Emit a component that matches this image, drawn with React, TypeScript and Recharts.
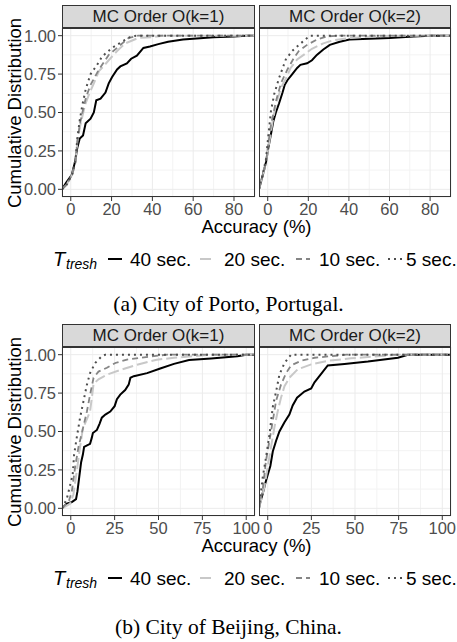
import React from "react";
import { LineChart, Line, XAxis, YAxis, CartesianGrid } from "recharts";

type Pt = [number, number];

// Threshold series, in legend order
const seriesNames = ["40 sec.", "20 sec.", "10 sec.", "5 sec."];
const facetNames = ["MC Order O(k=1)", "MC Order O(k=2)"];

// Porto, k=1 (accuracy %, cumulative share)
const porto1_40: Pt[] = [[-4.3, 0], [-2.4, 0.04], [0.5, 0.095], [2.1, 0.18], [3.2, 0.27], [4.4, 0.33], [6, 0.35], [7.3, 0.43], [9.7, 0.46], [11.3, 0.5], [12.5, 0.58], [14.6, 0.59], [17, 0.63], [18.6, 0.69], [20.2, 0.73], [22.7, 0.78], [24.3, 0.8], [27.5, 0.82], [29.6, 0.85], [32.4, 0.87], [35.6, 0.92], [38.8, 0.93], [42.9, 0.945], [47.7, 0.96], [55, 0.975], [60, 0.98], [70, 0.99], [80, 0.995], [86, 1], [90.3, 1]];
const porto1_20: Pt[] = [[-4.3, 0], [-2, 0.03], [0.8, 0.1], [2.4, 0.18], [3.2, 0.31], [4.4, 0.4], [5.7, 0.475], [7, 0.55], [8.9, 0.616], [11.3, 0.69], [13.8, 0.77], [16, 0.8], [18.6, 0.84], [22.7, 0.9], [26.7, 0.95], [33, 0.985], [39.6, 0.99], [45, 1], [90.3, 1]];
const porto1_10: Pt[] = [[-4.3, 0], [-2, 0.03], [0.8, 0.1], [2.4, 0.18], [3.2, 0.31], [4.4, 0.42], [5.7, 0.5], [7.5, 0.6], [9.7, 0.68], [13.8, 0.78], [18.6, 0.875], [23.5, 0.93], [28.3, 0.985], [33, 1], [90.3, 1]];
const porto1_5: Pt[] = [[-4.3, 0], [-2, 0.03], [0.8, 0.1], [2.4, 0.2], [3.2, 0.33], [4.4, 0.45], [5.7, 0.55], [7.3, 0.65], [9.7, 0.75], [12.9, 0.81], [15.4, 0.865], [20.2, 0.92], [25, 0.96], [29, 0.99], [32, 1], [90.3, 1]];

// Porto, k=2
const porto2_40: Pt[] = [[-4.3, 0], [-2.4, 0.095], [-0.8, 0.18], [0.3, 0.27], [1.6, 0.36], [2.7, 0.44], [4, 0.5], [5.6, 0.56], [7.3, 0.63], [8.4, 0.68], [9.7, 0.71], [12.1, 0.75], [14.5, 0.79], [16.1, 0.81], [19.4, 0.82], [21.8, 0.84], [24.2, 0.875], [27.4, 0.91], [30.6, 0.94], [35.5, 0.96], [40.3, 0.975], [50, 0.98], [60, 0.985], [72, 0.995], [80, 1], [90.3, 1]];
const porto2_20: Pt[] = [[-4.3, 0], [-2.4, 0.09], [-0.8, 0.18], [0.8, 0.31], [2.4, 0.44], [4, 0.55], [6.5, 0.66], [8.9, 0.72], [11.3, 0.79], [14.5, 0.845], [17.7, 0.875], [21.8, 0.915], [27.4, 0.95], [32.3, 0.97], [40.3, 0.985], [60, 1], [90.3, 1]];
const porto2_10: Pt[] = [[-4.3, 0], [-2.4, 0.09], [-0.8, 0.18], [0.3, 0.3], [1.6, 0.42], [4, 0.57], [6.5, 0.69], [9.7, 0.78], [12.9, 0.855], [15.3, 0.9], [19.4, 0.94], [24.2, 0.975], [29, 0.995], [35, 1], [90.3, 1]];
const porto2_5: Pt[] = [[-4.3, 0], [-2.4, 0.1], [-0.8, 0.2], [0.3, 0.35], [1.6, 0.51], [3.2, 0.62], [5.6, 0.725], [8.9, 0.845], [12, 0.9], [14.5, 0.93], [19.4, 0.985], [21, 1], [90.3, 1]];

// Beijing, k=1
const beijing1_40: Pt[] = [[-5, 0], [-2.3, 0.03], [0.6, 0.04], [3, 0.06], [3.8, 0.11], [5, 0.22], [5.9, 0.3], [6.9, 0.35], [7.6, 0.4], [11, 0.42], [12, 0.46], [12.6, 0.49], [14.9, 0.51], [16.4, 0.55], [17.7, 0.59], [19.7, 0.61], [22.5, 0.63], [25, 0.665], [26.3, 0.71], [28.2, 0.74], [31, 0.77], [33, 0.805], [34, 0.85], [35.9, 0.86], [43.5, 0.88], [51, 0.91], [58.8, 0.94], [67.4, 0.965], [80, 0.975], [95, 0.99], [100, 1], [105, 1]];
const beijing1_20: Pt[] = [[-5, 0], [-0.4, 0.03], [1.5, 0.09], [3.4, 0.24], [5.3, 0.4], [6.9, 0.52], [9.2, 0.58], [11, 0.63], [12, 0.72], [13, 0.81], [15.8, 0.84], [20.6, 0.87], [28.2, 0.9], [37.8, 0.935], [49, 0.967], [58.8, 0.98], [70, 0.99], [80, 1], [105, 1]];
const beijing1_10: Pt[] = [[-5, 0], [-1, 0.05], [0.6, 0.11], [2.5, 0.27], [4.4, 0.4], [6.3, 0.49], [9.2, 0.63], [11, 0.74], [12, 0.795], [13, 0.85], [15.8, 0.89], [20.6, 0.915], [25.4, 0.946], [32, 0.968], [39.7, 0.98], [51, 0.995], [55, 1], [105, 1]];
const beijing1_5: Pt[] = [[-5, 0], [-2.3, 0.06], [1.1, 0.22], [1.9, 0.35], [3.4, 0.46], [5.3, 0.59], [7.3, 0.7], [9.2, 0.805], [11, 0.88], [13.9, 0.946], [17.7, 0.99], [19.7, 1], [105, 1]];

// Beijing, k=2
const beijing2_40: Pt[] = [[-5, 0], [-4.8, 0.017], [-2.9, 0.093], [-1, 0.18], [1.5, 0.276], [2.9, 0.37], [4.8, 0.44], [6.7, 0.5], [9.6, 0.56], [12.4, 0.61], [14.3, 0.67], [16.8, 0.72], [21, 0.76], [24.9, 0.78], [26.8, 0.82], [29.6, 0.86], [34.4, 0.93], [44, 0.94], [57.4, 0.955], [74.6, 0.98], [80.3, 1], [105, 1]];
const beijing2_20: Pt[] = [[-5, 0], [-1.9, 0.14], [0, 0.27], [1.9, 0.4], [3.8, 0.525], [5.7, 0.63], [7.6, 0.72], [9.6, 0.795], [12.4, 0.85], [17.2, 0.905], [24.9, 0.937], [34.4, 0.96], [47.8, 0.976], [63, 0.99], [75, 1], [105, 1]];
const beijing2_10: Pt[] = [[-5, 0], [-2.9, 0.12], [-1, 0.31], [1, 0.44], [2.9, 0.57], [4.8, 0.7], [7.6, 0.805], [10.5, 0.88], [13.4, 0.93], [19, 0.96], [26.8, 0.98], [36, 0.99], [45, 1], [105, 1]];
const beijing2_5: Pt[] = [[-5, 0], [-2.9, 0.2], [-1, 0.33], [1, 0.48], [2.9, 0.66], [4.8, 0.76], [6.7, 0.87], [9.6, 0.946], [13.4, 1], [105, 1]];

// axes
const portoXDomain: [number, number] = [-4.3, 90.3];
const portoXTicks = [0, 20, 40, 60, 80];
const portoXMinor = [10, 30, 50, 70, 90];
const beijingXDomain: [number, number] = [-5, 105];
const beijingXTicks = [0, 25, 50, 75, 100];
const beijingXMinor = [12.5, 37.5, 62.5, 87.5];
const yTicks = [0, 0.25, 0.5, 0.75, 1];
const yMinor = [0.125, 0.375, 0.625, 0.875];

const lineStyles = [
  { stroke: "#000000", width: 2, dash: undefined as string | undefined },
  { stroke: "#C8C8C8", width: 2, dash: "11 4" },
  { stroke: "#858585", width: 1.8, dash: "6 4" },
  { stroke: "#4D4D4D", width: 2, dash: "2 4" },
];

const SANS = "'Liberation Sans', Arial, sans-serif";
const SERIF = "'Liberation Serif', 'Times New Roman', serif";
const PLOT_H = 169;
const AXIS_H = 24;
const Y_W = 62;
const EXTRA_R = 14; // room for the last tick label

const toRows = (pts: Pt[]) => pts.map(([x, y]) => ({ x, y }));

function Panel({ left, top, plotW, showY, xDomain, xTicks, xMinor, curves, title }: any) {
  const yw = showY ? Y_W : 0;
  return (
    <>
      <div
        style={{
          position: "absolute",
          left: left + yw,
          top: top - 23,
          width: plotW,
          height: 23,
          boxSizing: "border-box",
          border: "1px solid #333333",
          background: "#D9D9D9",
          color: "#1A1A1A",
          fontSize: 17,
          lineHeight: "21px",
          textAlign: "center",
        }}
      >
        {title}
      </div>
      <div style={{ position: "absolute", left, top }}>
        <LineChart width={plotW + yw + EXTRA_R} height={PLOT_H + AXIS_H} margin={{ top: 0, right: EXTRA_R, bottom: 0, left: 0 }}>
          <CartesianGrid stroke="#F3F3F3" verticalValues={xMinor} horizontalValues={yMinor} />
          <CartesianGrid stroke="#EBEBEB" />
          <XAxis
            type="number"
            dataKey="x"
            domain={xDomain}
            ticks={xTicks}
            interval={0}
            allowDataOverflow
            height={AXIS_H}
            axisLine={false}
            tickLine={{ stroke: "#333333" }}
            tickSize={4}
            tick={{ fill: "#4D4D4D", fontSize: 16.5, fontFamily: SANS }}
          />
          <YAxis
            type="number"
            dataKey="y"
            domain={[-0.05, 1.05]}
            ticks={yTicks}
            interval={0}
            allowDataOverflow
            hide={!showY}
            width={Y_W}
            axisLine={false}
            tickLine={{ stroke: "#333333" }}
            tickSize={4}
            tick={{ fill: "#4D4D4D", fontSize: 16.5, fontFamily: SANS }}
            tickFormatter={(v: number) => v.toFixed(2)}
          />
          {curves.map((c: Pt[], i: number) => (
            <Line
              key={i}
              data={toRows(c)}
              dataKey="y"
              type="linear"
              dot={false}
              activeDot={false}
              stroke={lineStyles[i].stroke}
              strokeWidth={lineStyles[i].width}
              strokeDasharray={lineStyles[i].dash}
              isAnimationActive={false}
            />
          ))}
        </LineChart>
      </div>
      <div
        style={{
          position: "absolute",
          left: left + yw,
          top,
          width: plotW,
          height: PLOT_H,
          boxSizing: "border-box",
          border: "1px solid #333333",
          pointerEvents: "none",
        }}
      />
    </>
  );
}

function LegendRow({ cy }: { cy: number }) {
  const keyX = [108, 200, 296, 388];
  const textX = [130, 224, 319, 406];
  return (
    <>
      <div style={{ position: "absolute", left: 53, top: cy - 12, fontSize: 20, fontStyle: "italic", lineHeight: "22px" }}>T</div>
      <div style={{ position: "absolute", left: 66, top: cy - 4, fontSize: 14, fontStyle: "italic", lineHeight: "16px" }}>tresh</div>
      {seriesNames.map((name, i) => (
        <React.Fragment key={name}>
          <svg style={{ position: "absolute", left: keyX[i], top: cy - 3 }} width={14} height={4}>
            <line
              x1={0}
              x2={14}
              y1={2}
              y2={2}
              stroke={lineStyles[i].stroke}
              strokeWidth={lineStyles[i].width}
              strokeDasharray={lineStyles[i].dash}
            />
          </svg>
          <div style={{ position: "absolute", left: textX[i], top: cy - 11, fontSize: 19, lineHeight: "22px", whiteSpace: "nowrap" }}>
            {name}
          </div>
        </React.Fragment>
      ))}
    </>
  );
}

function Figure({ top, xDomain, xTicks, xMinor, k1, k2, caption, captionY }: any) {
  // top = strip top
  const panelTop = top + 23;
  return (
    <>
      <Panel left={0} top={panelTop} plotW={193} showY xDomain={xDomain} xTicks={xTicks} xMinor={xMinor} curves={k1} title={facetNames[0]} />
      <Panel left={259} top={panelTop} plotW={192} showY={false} xDomain={xDomain} xTicks={xTicks} xMinor={xMinor} curves={k2} title={facetNames[1]} />
      <div
        style={{
          position: "absolute",
          left: 15,
          top: panelTop + PLOT_H / 2,
          transform: "translate(-50%, -50%) rotate(-90deg)",
          whiteSpace: "nowrap",
          fontSize: 18.5,
        }}
      >
        Cumulative Distribution
      </div>
      <div style={{ position: "absolute", left: 62, width: 389, top: panelTop + PLOT_H + 19, textAlign: "center", fontSize: 18.5, lineHeight: "21px" }}>
        Accuracy (%)
      </div>
      <LegendRow cy={panelTop + PLOT_H + 63} />
      <div style={{ position: "absolute", left: 0, width: 457, top: captionY - 12, textAlign: "center", fontFamily: SERIF, fontSize: 21.5, lineHeight: "24px" }}>
        {caption}
      </div>
    </>
  );
}

export default function App() {
  return (
    <div
      style={{
        position: "absolute",
        left: 0,
        top: 0,
        width: 457,
        height: 642,
        overflow: "hidden",
        background: "#FFFFFF",
        fontFamily: SANS,
        color: "#000000",
      }}
    >
      <Figure
        top={5}
        xDomain={portoXDomain}
        xTicks={portoXTicks}
        xMinor={portoXMinor}
        k1={[porto1_40, porto1_20, porto1_10, porto1_5]}
        k2={[porto2_40, porto2_20, porto2_10, porto2_5]}
        caption="(a) City of Porto, Portugal."
        captionY={304}
      />
      <Figure
        top={324}
        xDomain={beijingXDomain}
        xTicks={beijingXTicks}
        xMinor={beijingXMinor}
        k1={[beijing1_40, beijing1_20, beijing1_10, beijing1_5]}
        k2={[beijing2_40, beijing2_20, beijing2_10, beijing2_5]}
        caption="(b) City of Beijing, China."
        captionY={627}
      />
    </div>
  );
}
